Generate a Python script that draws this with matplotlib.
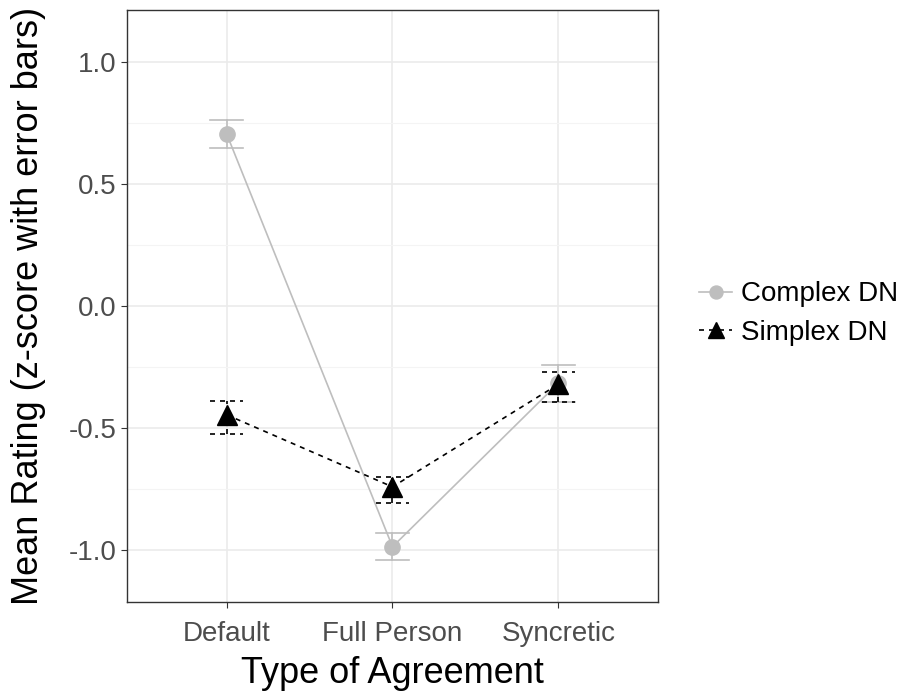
import matplotlib
matplotlib.use("Agg")
import matplotlib.pyplot as plt
from matplotlib.ticker import MultipleLocator

categories = ["Default", "Full Person", "Syncretic"]
complex_mean = [0.705, -0.985, -0.315]
complex_lo = [0.646, -1.039, -0.393]
complex_hi = [0.761, -0.928, -0.241]
simplex_mean = [-0.445, -0.74, -0.32]
simplex_lo = [-0.523, -0.806, -0.393]
simplex_hi = [-0.389, -0.70, -0.27]

plt.rcParams['font.family'] = ['Liberation Sans', 'DejaVu Sans']

fig = plt.figure(figsize=(9.04, 6.92), dpi=100)
ax = fig.add_axes([127/904, 1-602/692, (658-127)/904, (602-10)/692])

x = list(range(1, len(categories) + 1))
half = 0.1

# complex DN (grey, solid)
for xi, lo, hi in zip(x, complex_lo, complex_hi):
    ax.plot([xi, xi], [lo, hi], color="#BEBEBE", lw=1.2, zorder=2)
    ax.plot([xi-half, xi+half], [lo, lo], color="#BEBEBE", lw=1.2, zorder=2)
    ax.plot([xi-half, xi+half], [hi, hi], color="#BEBEBE", lw=1.2, zorder=2)
ax.plot(x, complex_mean, color="#BEBEBE", lw=1.2, marker="o", ms=11,
        zorder=3, label="Complex DN")

# simplex DN (black, dashed)
for xi, lo, hi in zip(x, simplex_lo, simplex_hi):
    ax.plot([xi, xi], [lo, hi], color="black", lw=1.2, ls=(0, (3, 3)), zorder=4)
    ax.plot([xi-half, xi+half], [lo, lo], color="black", lw=1.2, ls=(0, (3, 3)), zorder=4)
    ax.plot([xi-half, xi+half], [hi, hi], color="black", lw=1.2, ls=(0, (3, 3)), zorder=4)
ax.plot(x, simplex_mean, color="black", lw=1.2, ls=(0, (3, 3)), marker="^", ms=14,
        zorder=5, label="Simplex DN")

ax.set_xlim(0.4, 3.6)
ax.set_ylim(-1.211, 1.211)
ax.set_xticks(x)
ax.set_xticklabels(categories)
ax.yaxis.set_minor_locator(MultipleLocator(0.25))
ax.set_yticks([-1, -0.5, 0, 0.5, 1])
ax.set_yticklabels(["-1.0", "-0.5", "0.0", "0.5", "1.0"])

ax.grid(which="major", color="#EBEBEB", lw=1.2, zorder=0)
ax.grid(which="minor", axis="y", color="#F4F4F4", lw=0.8, zorder=0)
ax.set_axisbelow(True)
for s in ax.spines.values():
    s.set_color("#333333")
    s.set_linewidth(1.0)
ax.tick_params(which="major", colors="#333333", length=4, labelsize=20,
               labelcolor="#4D4D4D")
ax.tick_params(axis="x", which="major", pad=10)
ax.tick_params(which="minor", length=0)

ax.set_xlabel("Type of Agreement", fontsize=26, labelpad=6)
ax.set_ylabel("Mean Rating (z-score with error bars)", fontsize=26, labelpad=16)

leg = ax.legend(loc="center left", bbox_to_anchor=(1.03, 0.487), frameon=False,
                fontsize=20, handlelength=1.2, handletextpad=0.3, labelspacing=0.45,
                markerscale=0.85)

fig.savefig("out.png", dpi=100)
